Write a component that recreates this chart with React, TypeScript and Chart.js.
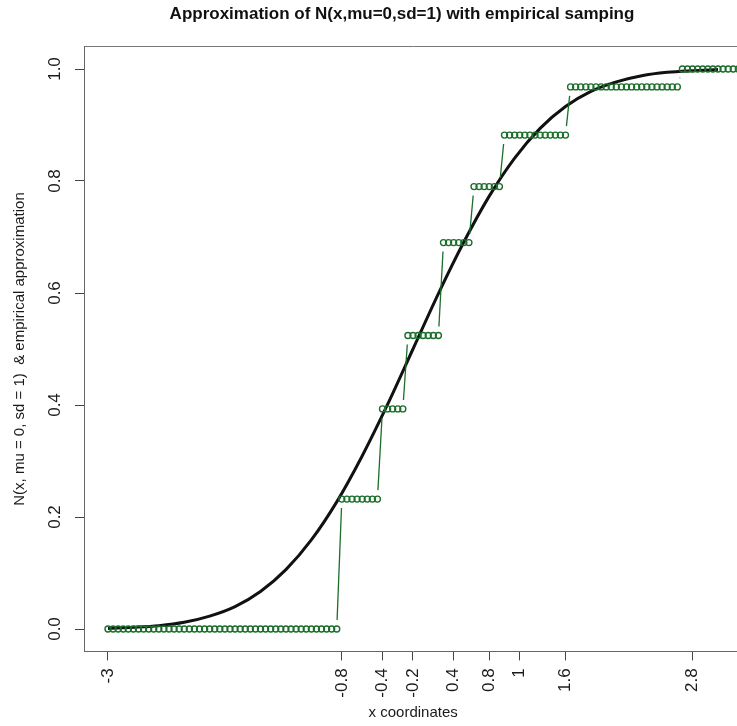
import React, { useEffect, useRef } from "react";
import { Chart, registerables } from "chart.js";

Chart.register(...registerables);

// Normal CDF curve
const curveX = [-3, -2.75, -2.5, -2.25, -2, -1.75, -1.5, -1.25, -1, -0.75, -0.5, -0.25, 0, 0.25, 0.5, 0.75, 1, 1.25, 1.5, 1.75, 2, 2.25, 2.5, 2.75, 3];
const curveY = [0.001, 0.003, 0.006, 0.012, 0.023, 0.04, 0.067, 0.106, 0.159, 0.227, 0.309, 0.401, 0.5, 0.599, 0.691, 0.773, 0.841, 0.894, 0.933, 0.96, 0.977, 0.988, 0.994, 0.997, 0.999];

// Empirical step approximation: level starts and values
const stepStarts = [-3, -0.7, -0.3, -0.05, 0.3, 0.6, 0.9, 1.55, 2.65];
const stepLevels = [0, 0.232, 0.393, 0.524, 0.69, 0.79, 0.882, 0.968, 1.0];
const gridFrom = -3;
const gridTo = 3.2;
const gridStep = 0.05;

// Axis ticks
const xTickValues = [-3, -0.7, -0.3, 0.0, 0.4, 0.75, 1.05, 1.5, 2.75];
const xTickLabels = ["-3", "-0.8", "-0.4", "-0.2", "0.4", "0.8", "1", "1.6", "2.8"];
const yTickValues = [0, 0.2, 0.4, 0.6, 0.8, 1.0];

const GREEN = "#1b6e2b";
const FONT = "'Liberation Sans', Arial, Helvetica, sans-serif";
const CANVAS_W = 804;
const CANVAS_H = 726;

function buildEmpirical() {
  const n = Math.round((gridTo - gridFrom) / gridStep);
  const pts: { x: number; y: number }[] = [];
  for (let i = 0; i <= n; i++) {
    const x = +(gridFrom + i * gridStep).toFixed(2);
    let lvl = stepLevels[0];
    for (let k = 0; k < stepStarts.length; k++) {
      if (x >= stepStarts[k] - 1e-9) lvl = stepLevels[k];
    }
    pts.push({ x, y: lvl });
  }
  return pts;
}

const gapLines = {
  id: "gapLines",
  afterDatasetDraw(chart: any, args: any) {
    if (args.index !== 0) return;
    const meta = args.meta;
    const ctx = chart.ctx;
    const a = chart.chartArea;
    const gap = 9;
    ctx.save();
    ctx.beginPath();
    ctx.rect(a.left, a.top, a.right - a.left, a.bottom - a.top);
    ctx.clip();
    ctx.strokeStyle = GREEN;
    ctx.lineWidth = 1.3;
    for (let i = 1; i < meta.data.length; i++) {
      const p0 = meta.data[i - 1];
      const p1 = meta.data[i];
      const dx = p1.x - p0.x;
      const dy = p1.y - p0.y;
      const len = Math.hypot(dx, dy);
      if (len <= 2 * gap) continue;
      const ux = dx / len;
      const uy = dy / len;
      ctx.beginPath();
      ctx.moveTo(p0.x + ux * gap, p0.y + uy * gap);
      ctx.lineTo(p1.x - ux * gap, p1.y - uy * gap);
      ctx.stroke();
    }
    ctx.restore();
  },
};

export default function App() {
  const ref = useRef<HTMLCanvasElement | null>(null);

  useEffect(() => {
    if (!ref.current) return;
    const curve = curveX.map((x, i) => ({ x, y: curveY[i] }));
    const empirical = buildEmpirical();

    const chart = new Chart(ref.current, {
      type: "scatter",
      data: {
        datasets: [
          {
            label: "empirical",
            data: empirical,
            showLine: false,
            pointRadius: 3,
            pointBorderWidth: 1.4,
            pointBorderColor: GREEN,
            pointBackgroundColor: "rgba(0,0,0,0)",
            pointHoverRadius: 3,
            order: 0,
          },
          {
            label: "N(0,1)",
            data: curve,
            showLine: true,
            borderColor: "#111111",
            borderWidth: 3,
            pointRadius: 0,
            pointHoverRadius: 0,
            cubicInterpolationMode: "monotone",
            order: 1,
          },
        ],
      },
      options: {
        animation: false,
        responsive: false,
        devicePixelRatio: 1,
        layout: { padding: 0 },
        plugins: {
          legend: { display: false },
          tooltip: { enabled: false },
          title: {
            display: true,
            fullSize: true,
            text: "Approximation of N(x,mu=0,sd=1) with empirical samping",
            color: "#111",
            font: { family: FONT, size: 17, weight: "bold", lineHeight: 1.2 },
            padding: { top: 4, bottom: 22.2 },
          },
        },
        scales: {
          x: {
            type: "linear",
            position: "bottom",
            min: -3.236,
            max: 3.24,
            afterBuildTicks: (s: any) => {
              s.ticks = xTickValues.map((v) => ({ value: v }));
            },
            afterFit: (s: any) => {
              s.height = 74.6;
            },
            ticks: {
              autoSkip: false,
              minRotation: 90,
              maxRotation: 90,
              padding: 8,
              color: "#1a1a1a",
              font: { family: FONT, size: 17 },
              callback: (_v: any, i: number) => xTickLabels[i],
            },
            grid: { drawOnChartArea: false, drawTicks: true, tickLength: 9, tickColor: "#444" },
            border: { display: true, color: "#666", width: 1 },
            title: {
              display: true,
              text: "x coordinates",
              color: "#1a1a1a",
              font: { family: FONT, size: 15, lineHeight: 1.2 },
              padding: { top: 0, bottom: 4 },
            },
          },
          xTop: {
            type: "linear",
            axis: "x",
            position: "top",
            min: -3.236,
            max: 3.24,
            afterFit: (s: any) => {
              s.height = 0;
            },
            ticks: { display: false },
            grid: { drawOnChartArea: false, drawTicks: false },
            border: { display: true, color: "#777", width: 1 },
          },
          y: {
            type: "linear",
            position: "left",
            min: -0.04,
            max: 1.04,
            afterBuildTicks: (s: any) => {
              s.ticks = yTickValues.map((v) => ({ value: v }));
            },
            afterFit: (s: any) => {
              s.width = 84;
            },
            ticks: {
              minRotation: 90,
              maxRotation: 90,
              crossAlign: "center",
              padding: 8,
              color: "#1a1a1a",
              font: { family: FONT, size: 17 },
              callback: (v: any) => Number(v).toFixed(1),
            },
            grid: { drawOnChartArea: false, drawTicks: true, tickLength: 9, tickColor: "#444" },
            border: { display: true, color: "#666", width: 1 },
            title: {
              display: true,
              text: "N(x, mu = 0, sd = 1)  & empirical approximation",
              color: "#1a1a1a",
              font: { family: FONT, size: 15, lineHeight: 1.2 },
              padding: { top: 11, bottom: 0 },
            },
          },
          yRight: {
            type: "linear",
            axis: "y",
            position: "right",
            min: 0,
            max: 1,
            afterFit: (s: any) => {
              s.width = CANVAS_W - 742.4;
            },
            ticks: { display: false },
            grid: { display: false, drawOnChartArea: false, drawTicks: false },
            border: { display: false },
          },
        },
      },
      plugins: [gapLines],
    } as any);

    return () => chart.destroy();
  }, []);

  return (
    <div style={{ position: "absolute", left: 0, top: 0, width: 737, height: 726, overflow: "hidden", background: "#fff" }}>
      <canvas ref={ref} width={CANVAS_W} height={CANVAS_H} style={{ display: "block", width: CANVAS_W, height: CANVAS_H }} />
    </div>
  );
}
